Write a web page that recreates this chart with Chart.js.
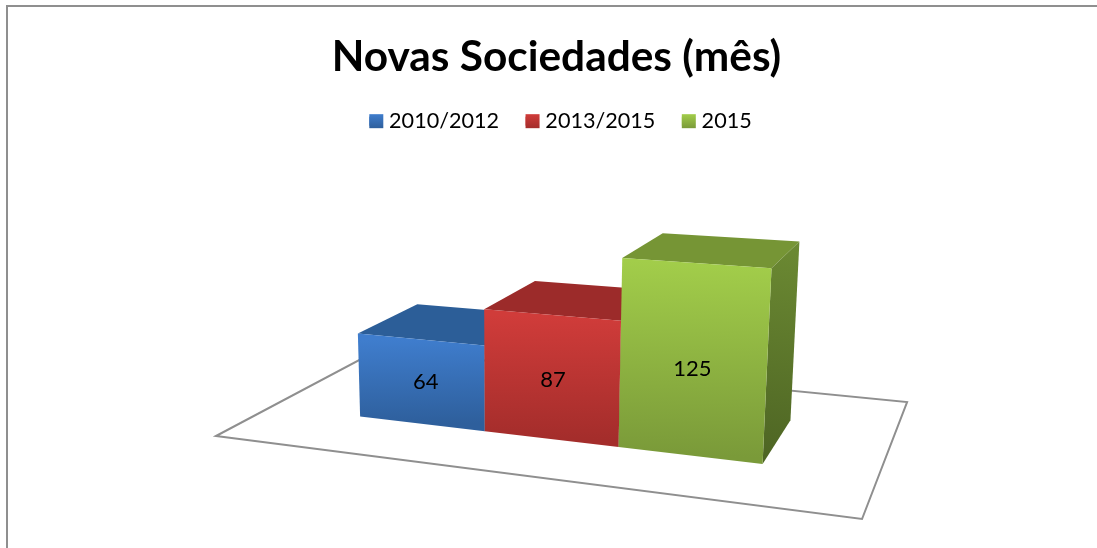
<!DOCTYPE html>
<html>
<head>
<meta charset="utf-8">
<title>Novas Sociedades (mês)</title>
<script src="https://cdn.jsdelivr.net/npm/chart.js@4/dist/chart.umd.min.js"></script>
<style>
    body { margin: 0; background: #fff; overflow: hidden; }
    #frame { position: absolute; left: 6px; top: 5px; right: 0; bottom: 0; border-left: 2px solid #8f8f8f; border-top: 2px solid #8f8f8f; pointer-events: none; }
    canvas { display: block; }
</style>
</head>
<body>
<canvas id="sociedades-chart" width="1097" height="548"></canvas>
<div id="frame"></div>
<script>
const categories = ['Novas Sociedades'];
const seriesNames = ['2010/2012', '2013/2015', '2015'];
const values2010 = [64];
const values2013 = [87];
const values2015 = [125];

// light, dark, top face, side light, side dark
const blueShades = ['#3f7dcd', '#2e5f9c', '#2c5e98', '#2c5e98', '#234b7a'];
const redShades = ['#d03c3a', '#a42d2b', '#9c2b2a', '#9c2b2a', '#7a2120'];
const greenShades = ['#a2cd4a', '#7a9a39', '#769535', '#6c8a33', '#4d6423'];

// value label nudges, the picture does not centre them exactly on the face
const labelShiftX = [5, 2, 0];
const labelShiftY = [0, 2, 8];

const legendShift = 4;

const depthFront = 0.3;
const depthBack = 0.7;

// camera of the old 3D chart: X, Z run 0..1 over the floor, Y is 0..1 over the value axis
function project(X, Y, Z)
{
    const w = 1 - 0.1606 * X - 0.0321 * Y + 0.2348 * Z;
    return {
        x: (507.6 * X - 16.4 * Y + 250.8 * Z + 216) / w,
        y: (-0.35 * X - 192 * Y - 3.8 * Z + 436) / w
    };
}

function face(ctx, points, fill)
{
    ctx.beginPath();
    points.forEach((p, i) => i ? ctx.lineTo(p.x, p.y) : ctx.moveTo(p.x, p.y));
    ctx.closePath();
    ctx.fillStyle = fill;
    ctx.fill();
}

function shade(ctx, from, to, light, dark)
{
    const g = ctx.createLinearGradient(from.x, from.y, to.x, to.y);
    g.addColorStop(0, light);
    g.addColorStop(1, dark);
    return g;
}

const box3dPlugin = {
    id: 'box3d',
    afterLayout(chart)
    {
        chart.legend.left += legendShift;
        chart.legend.right += legendShift;
    },
    beforeDatasetsDraw(chart)
    {
        const ctx = chart.ctx;
        const area = chart.chartArea;
        const toX = px => (px - area.left) / area.width;
        const toY = py => (area.bottom - py) / area.height;

        ctx.save();

        const floor = [project(0, 0, 0), project(1, 0, 0), project(1, 0, 1), project(0, 0, 1)];
        ctx.beginPath();
        floor.forEach((p, i) => i ? ctx.lineTo(p.x, p.y) : ctx.moveTo(p.x, p.y));
        ctx.closePath();
        ctx.strokeStyle = '#8f8f8f';
        ctx.lineWidth = 2;
        ctx.stroke();

        chart.data.datasets.forEach((dataset, i) => {
            const bar = chart.getDatasetMeta(i).data[0];
            const props = bar.getProps(['x', 'y', 'width'], true);
            const x0 = toX(props.x - props.width / 2);
            const x1 = toX(props.x + props.width / 2);
            const h = toY(props.y);
            const s = dataset.shades;

            const fbl = project(x0, 0, depthFront);
            const fbr = project(x1, 0, depthFront);
            const ftl = project(x0, h, depthFront);
            const ftr = project(x1, h, depthFront);
            const bbr = project(x1, 0, depthBack);
            const btl = project(x0, h, depthBack);
            const btr = project(x1, h, depthBack);

            face(ctx, [ftl, ftr, btr, btl], s[2]);
            face(ctx, [fbr, ftr, btr, bbr], shade(ctx, btr, fbr, s[3], s[4]));
            face(ctx, [fbl, fbr, ftr, ftl], shade(ctx, project((x0 + x1) / 2, h, depthFront), project((x0 + x1) / 2, 0, depthFront), s[0], s[1]));
        });

        chart.data.datasets.forEach((dataset, i) => {
            const bar = chart.getDatasetMeta(i).data[0];
            const props = bar.getProps(['x', 'y'], true);
            const c = project(toX(props.x), toY(props.y) / 2, depthFront);
            ctx.font = '22px Lato';
            ctx.fillStyle = '#000';
            ctx.textAlign = 'center';
            ctx.textBaseline = 'middle';
            ctx.fillText(dataset.data[0], c.x + labelShiftX[i], c.y + labelShiftY[i]);
        });

        ctx.restore();
        return false;
    },
    afterDraw(chart)
    {
        // legend boxes carry the same gradient as the bars
        const ctx = chart.ctx;
        chart.legend.legendHitBoxes.forEach((hit, i) => {
            const s = chart.data.datasets[i].shades;
            const top = hit.top + (hit.height - 14) / 2;
            ctx.fillStyle = shade(ctx, { x: hit.left, y: top }, { x: hit.left, y: top + 14 }, s[0], s[1]);
            ctx.fillRect(hit.left, top, 14, 14);
        });
    }
};

new Chart(document.getElementById('sociedades-chart'), {
    type: 'bar',
    plugins: [box3dPlugin],
    data: {
        labels: categories,
        datasets: [
            { label: seriesNames[0], data: values2010, backgroundColor: blueShades[0], shades: blueShades },
            { label: seriesNames[1], data: values2013, backgroundColor: redShades[0], shades: redShades },
            { label: seriesNames[2], data: values2015, backgroundColor: greenShades[0], shades: greenShades }
        ]
    },
    options: {
        responsive: false,
        animation: false,
        layout: { padding: { left: 16, right: 0, top: 0, bottom: 20 } },
        datasets: { bar: { categoryPercentage: 2 / 3, barPercentage: 1 } },
        scales: {
            x: { display: false },
            y: { display: false, min: 8, max: 125 }
        },
        plugins: {
            tooltip: { enabled: false },
            title: {
                display: true,
                text: 'Novas Sociedades (mês)',
                color: '#000',
                font: { family: 'Lato', size: 42.4, weight: 'bold' },
                padding: { top: 32, bottom: 1 }
            },
            legend: {
                position: 'top',
                onClick: null,
                labels: {
                    color: '#000',
                    font: { family: 'Lato', size: 21.6 },
                    boxWidth: 9,
                    boxHeight: 9,
                    padding: 26.5
                }
            }
        }
    }
});
</script>
</body>
</html>
